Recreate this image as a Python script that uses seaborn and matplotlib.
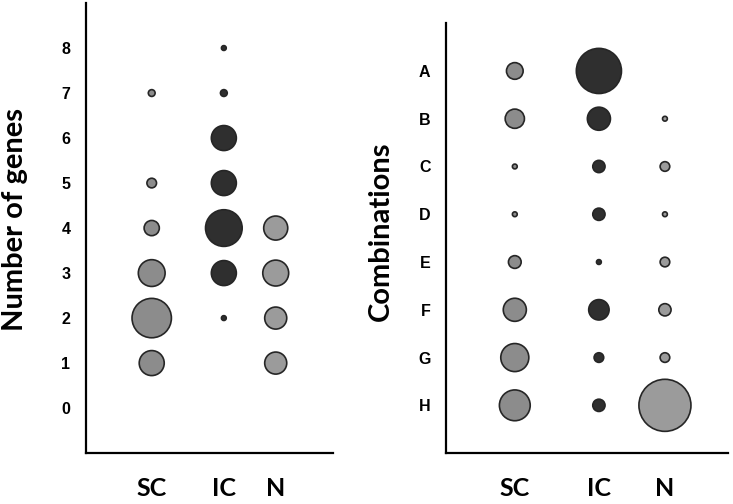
import matplotlib
matplotlib.use("Agg")
import matplotlib.pyplot as plt
import seaborn as sns
import pandas as pd

# ---- data (bubble area ~ value) ----
groups = ["SC", "IC", "N"]

genes_sc_y = [1, 2, 3, 4, 5, 7]
genes_sc_v = [27, 67, 31, 10, 4, 2]
genes_ic_y = [2, 3, 4, 5, 6, 7, 8]
genes_ic_v = [1, 27, 58, 27, 27, 2, 1]
genes_n_y = [1, 2, 3, 4]
genes_n_v = [21, 21, 29, 25]
gene_ticks = [0, 1, 2, 3, 4, 5, 6, 7, 8]

combos = ["A", "B", "C", "D", "E", "F", "G", "H"]
comb_sc_v = [12, 16, 1, 1, 7, 23, 34, 41]
comb_ic_v = [88, 23, 6.5, 6.5, 1, 18, 4, 6.5]
comb_n_c = ["B", "C", "D", "E", "F", "G", "H"]
comb_n_v = [1, 4, 1, 4, 6.5, 4, 117]

# ---- styling / layout ----
palette = {"SC": "#8c8c8c", "IC": "#2f2f2f", "N": "#9b9b9b"}
xpos_left = {"SC": 0.267, "IC": 0.559, "N": 0.769}
xpos_right = {"SC": 0.245, "IC": 0.543, "N": 0.777}
AREA_PER_UNIT = 12.0  # pt^2 per value unit

sns.set_theme(style="white")
plt.rcParams["font.family"] = ["DejaVu Sans"]

fig = plt.figure(figsize=(7.33, 5.04), dpi=100)
axL = fig.add_axes([0.117, 0.101, 0.337, 0.893])
axR = fig.add_axes([0.608, 0.101, 0.385, 0.853])

rows = []
for g, ys, vs in [("SC", genes_sc_y, genes_sc_v), ("IC", genes_ic_y, genes_ic_v), ("N", genes_n_y, genes_n_v)]:
    for y, v in zip(ys, vs):
        rows.append({"group": g, "x": xpos_left[g], "y": y, "v": v})
dfL = pd.DataFrame(rows)

rows = []
for g, cs, vs in [("SC", combos, comb_sc_v), ("IC", combos, comb_ic_v), ("N", comb_n_c, comb_n_v)]:
    for c, v in zip(cs, vs):
        rows.append({"group": g, "x": xpos_right[g], "y": combos.index(c), "v": v})
dfR = pd.DataFrame(rows)

for ax, df in [(axL, dfL), (axR, dfR)]:
    vmax = df["v"].max()
    sns.scatterplot(data=df, x="x", y="y", hue="group", palette=palette,
                    size="v", sizes=(0, vmax * AREA_PER_UNIT), size_norm=(0, vmax),
                    edgecolor="#262626", linewidth=1.2, legend=False, ax=ax, zorder=3)
    ax.set_xlim(0, 1)
    for s in ["top", "right"]:
        ax.spines[s].set_visible(False)
    for s in ["left", "bottom"]:
        ax.spines[s].set_color("black")
        ax.spines[s].set_linewidth(1.6)
    ax.tick_params(axis="both", length=0)
    ax.tick_params(axis="x", pad=17)
    ax.tick_params(axis="y", pad=11)
    ax.set_xlabel("")

axL.set_xticks([xpos_left[g] for g in groups])
axL.set_xticklabels(groups)
axR.set_xticks([xpos_right[g] for g in groups])
axR.set_xticklabels(groups)

axL.set_ylim(-1, 9)
axL.set_yticks(gene_ticks)
axL.set_yticklabels([str(t) for t in gene_ticks])

axR.set_ylim(8, -1)
axR.set_yticks(range(len(combos)))
axR.set_yticklabels(combos)

for ax in (axL, axR):
    for lab in ax.get_xticklabels():
        lab.set_fontfamily("Lato")
        lab.set_fontweight("bold")
        lab.set_fontsize(18)
        lab.set_color("black")
    for lab in ax.get_yticklabels():
        lab.set_fontfamily("Liberation Sans")
        lab.set_fontweight("bold")
        lab.set_fontsize(11.5)
        lab.set_color("black")

axL.set_ylabel("Number of genes", fontfamily="Lato", fontweight="bold", fontsize=21, color="black")
axL.yaxis.set_label_coords(-0.235, 0.52)
axR.set_ylabel("Combinations", fontfamily="Lato", fontweight="bold", fontsize=21, color="black")
axR.yaxis.set_label_coords(-0.185, 0.516)

fig.savefig("out.png", dpi=100)
